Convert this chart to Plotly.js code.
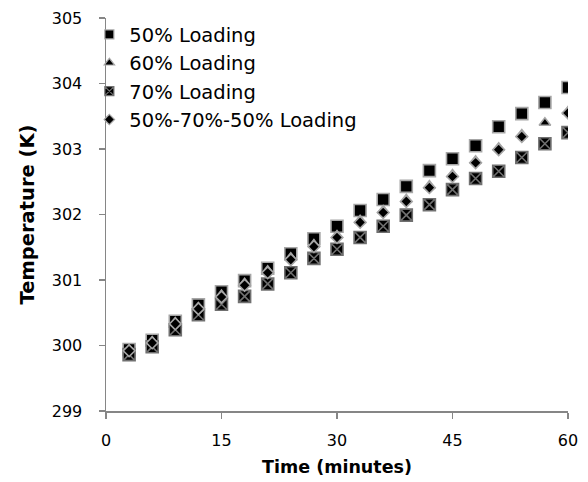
<!DOCTYPE html>
<html>
<head>
<meta charset="utf-8">
<script src="https://cdn.plot.ly/plotly-3.0.1.min.js"></script>
<style>html,body{margin:0;padding:0;background:#fff;}#chart{width:588px;height:482px;}</style>
</head>
<body>
<div id="chart"></div>
<script>
const time = [3,6,9,12,15,18,21,24,27,30,33,36,39,42,45,48,51,54,57,60];
const load50 = [299.94,300.08,300.37,300.62,300.82,300.99,301.18,301.40,301.63,301.82,302.06,302.23,302.43,302.67,302.85,303.05,303.34,303.54,303.71,303.94];
const load60 = [299.93,300.06,300.35,300.58,300.77,300.95,301.14,301.34,301.54,301.68,301.91,302.06,302.23,302.44,302.61,302.82,303.02,303.22,303.40,303.57];
const load70 = [299.86,299.98,300.24,300.47,300.63,300.75,300.94,301.11,301.33,301.47,301.65,301.82,301.99,302.15,302.38,302.55,302.66,302.87,303.08,303.25];
const load507050 = [299.92,300.04,300.33,300.56,300.74,300.92,301.11,301.31,301.51,301.65,301.88,302.03,302.20,302.41,302.58,302.79,302.99,303.19,null,303.55];
const seriesNames = ['50% Loading','60% Loading','70% Loading','50%-70%-50% Loading'];
const xTicks = [0,15,30,45,60];
const yTicks = [299,300,301,302,303,304,305];

const FONT = 'DejaVu Sans, Verdana, sans-serif';
const edge = '#a6a6a6';
const symbols = ['square','triangle-up','square-x','diamond'];
const dataSizes = [12,10,12,9];
const legendSizes = [9,9,9,8];
const values = [load50, load60, load70, load507050];

const traces = [];
values.forEach((v, i) => {
  traces.push({
    x: time, y: v, type: 'scatter', mode: 'markers', name: seriesNames[i],
    showlegend: false, hoverinfo: 'x+y',
    marker: {symbol: symbols[i], size: dataSizes[i], color: '#000',
             line: {color: i === 2 ? '#707070' : edge, width: 1.6}}
  });
});
values.forEach((v, i) => {
  traces.push({
    x: [null], y: [null], type: 'scatter', mode: 'markers', name: seriesNames[i],
    showlegend: true,
    marker: {symbol: symbols[i], size: legendSizes[i], color: '#000',
             line: {color: i === 2 ? '#707070' : edge, width: 1.2}}
  });
});

const layout = {
  width: 588, height: 482,
  margin: {l: 106, r: 20, t: 18, b: 71},
  paper_bgcolor: '#fff', plot_bgcolor: '#fff',
  font: {family: FONT, size: 16, color: '#000'},
  showlegend: true,
  legend: {x: -0.036, y: 1.007, xanchor: 'left', yanchor: 'top',
           font: {family: FONT, size: 19.5, color: '#000'},
           bgcolor: 'rgba(0,0,0,0)', itemwidth: 30, tracegroupgap: 0},
  xaxis: {
    range: [0, 60], tickvals: xTicks, ticktext: xTicks.map(String),
    showgrid: false, zeroline: false, showline: true, linecolor: '#868686', linewidth: 1.5,
    ticks: 'outside', ticklen: 6, tickcolor: '#868686', tickwidth: 1.5,
    ticklabelstandoff: 8,
    tickfont: {family: FONT, size: 16, color: '#000'},
    title: {text: 'Time (minutes)', font: {family: FONT, size: 17.5, color: '#000', weight: 'bold'}, standoff: 12}
  },
  yaxis: {
    range: [299, 305], tickvals: yTicks, ticktext: yTicks.map(String),
    showgrid: false, zeroline: false, showline: true, linecolor: '#868686', linewidth: 1.5,
    ticks: 'outside', ticklen: 6, tickcolor: '#868686', tickwidth: 1.5,
    ticklabelstandoff: 13,
    tickfont: {family: FONT, size: 16, color: '#000'},
    title: {text: 'Temperature (K)', font: {family: FONT, size: 19.5, color: '#000', weight: 'bold'}, standoff: 12}
  }
};

Plotly.newPlot('chart', traces, layout, {displayModeBar: false, staticPlot: true});
</script>
</body>
</html>
